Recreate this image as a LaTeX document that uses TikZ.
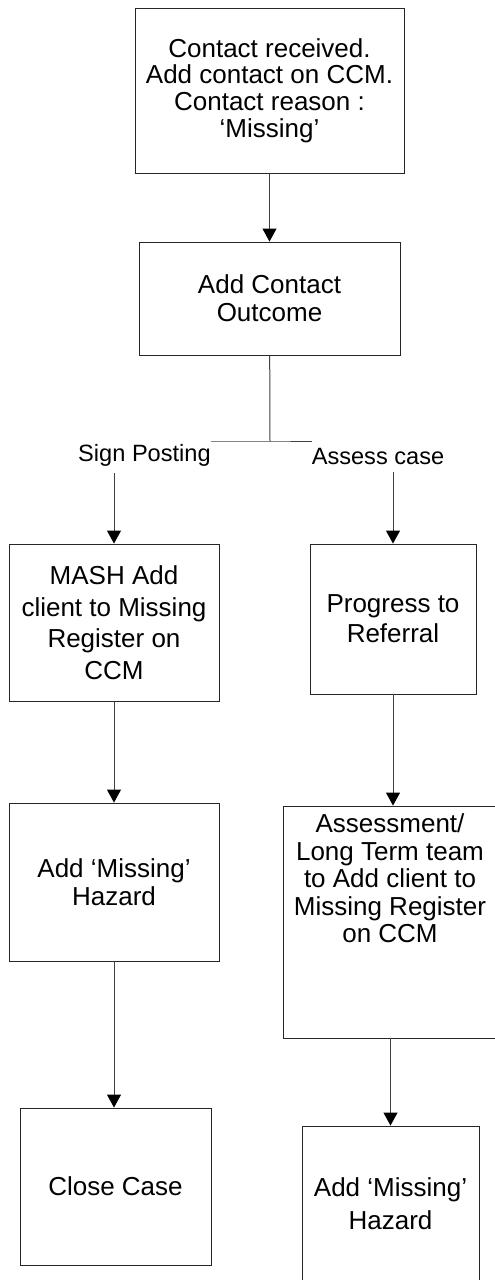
\documentclass[tikz,border=0pt]{standalone}
\usepackage{fontspec}
\setmainfont{Liberation Sans}
\usepackage{tikz}
\usetikzlibrary{shapes,arrows.meta}
\usetikzlibrary{positioning}
\tikzstyle{block} = [rectangle, draw=black!85, line width=0.9pt, align=center,
    inner sep=0pt, font=\fontsize{26}{28}\selectfont]
\tikzstyle{choice} = [inner sep=0pt, font=\fontsize{23.6}{27}\selectfont]
\tikzstyle{link} = [draw=black!75, line width=1pt]
\tikzstyle{line} = [link, -{Triangle[length=13pt,width=14pt,color=black]}]

\begin{document}
\begin{tikzpicture}[x=1pt, y=1pt, node distance=208pt]
  \useasboundingbox (0,0) rectangle (495,-1280);
  % Place nodes
  \node [block, minimum width=269pt, minimum height=165pt,
  font=\fontsize{26}{26.7}\selectfont] (contact) at (269.5,-90.5)
  {Contact received.\\ Add contact on CCM.\\ Contact reason :\\ ‘Missing’};
  \node [block, below of=contact, minimum width=261pt, minimum height=113pt] (outcome)
  {Add Contact\\ Outcome};
  \node [block, minimum width=210pt, minimum height=157pt,
  font=\fontsize{26}{31.5}\selectfont] (mash) at (114,-622.5)
  {MASH Add\\ client to Missing\\ Register on\\ CCM};
  \node [block, right of=mash, node distance=279pt, yshift=3.5pt,
  minimum width=166pt, minimum height=150pt, font=\fontsize{26}{30}\selectfont] (referral)
  {Progress to\\ Referral};
  \node [block, below of=mash, node distance=259.5pt, minimum width=210pt,
  minimum height=158pt] (hazardL)
  {Add ‘Missing’\\ Hazard};
  \node [block, minimum width=214pt, minimum height=232pt] (team) at (390,-922) {};
  \node [anchor=north, align=center, inner sep=0pt, font=\fontsize{26}{27.5}\selectfont]
  (teamtext) at ([yshift=-8pt]team.north)
  {Assessment/\\ Long Term team\\ to Add client to\\ Missing Register\\ on CCM};
  \node [block, below of=hazardL, node distance=304.5pt, xshift=1.5pt,
  minimum width=191pt, minimum height=157pt] (close)
  {Close Case};
  \node [block, minimum width=177pt, minimum height=155pt,
  font=\fontsize{26}{33}\selectfont] (hazardR) at (390.5,-1203.5)
  {Add ‘Missing’\\ Hazard};
  \node [choice] (sign) at (144.5,-455) {Sign Posting};
  \node [choice] (assess) at (378,-456) {Assess case};
  \coordinate (split) at (270,-441);
  % Draw edges
  \draw [line] (contact) -- (outcome);
  \draw [link] (outcome) -- (split);
  \draw [link] (split -| sign.east) -- (split) -- (split -| assess.west);
  \draw [line] ([yshift=-7pt]sign.south -| mash.north) -- (mash);
  \draw [line] ([yshift=-8pt]assess.south -| referral.north) -- (referral);
  \draw [line] (mash) -- (hazardL);
  \draw [line] (referral) -- (referral |- team.north);
  \draw [line] (hazardL) -- (hazardL |- close.north);
  \draw [line] (team.south -| hazardR) -- (hazardR);
\end{tikzpicture}
\end{document}
